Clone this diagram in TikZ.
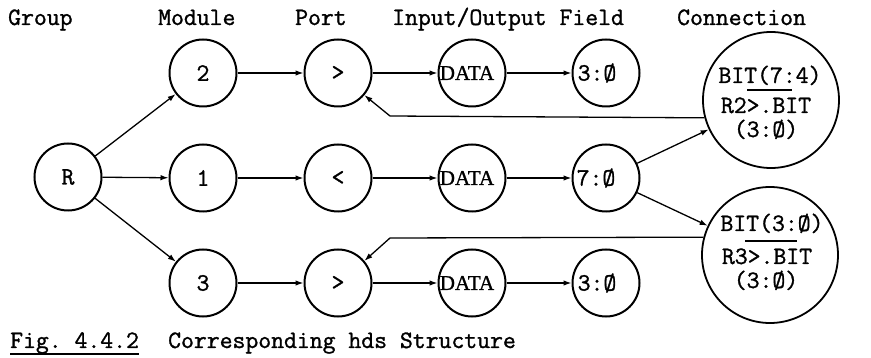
\documentclass[tikz,border=0pt]{standalone}
\usepackage{fontspec}
\setmonofont{Latin Modern Mono}[FakeBold=1.2]
\newfontfamily\datafont{Liberation Serif}[FakeBold=1]
\usetikzlibrary{arrows.meta}
% text pushed left inside a circle of fixed size
\newcommand\leftin[2]{\makebox[0pt]{\kern-#1#2}}
\newcommand\datatext{\datafont\fontsize{21}{23}\selectfont DATA}
\begin{document}
\begin{tikzpicture}[x=1pt,y=-1pt,
  every node/.style={font=\ttfamily\fontsize{25}{27}\selectfont},
  hds/.style={circle, draw, line width=2pt, minimum size=67pt, inner sep=0pt},
  conn/.style={circle, draw, line width=1.8pt, minimum size=136pt, inner sep=0pt},
  head/.style={anchor=base west, inner sep=0pt},
  ctext/.style={anchor=base, inner sep=0pt},
  link/.style={line width=1.3pt, -{Latex[length=8pt,width=5.5pt]}},
  back/.style={line width=1.3pt, line join=round, -{Latex[length=8pt,width=5.5pt]}}]
\useasboundingbox[fill=white] (0,0) rectangle (871,358);

% column headings
\node[head] (hgroup) at (8,25) {Group};
\node[head] (hmod) at (158,25) {Module};
\node[head] (hport) at (295,25) {Port};
\node[head] (hio) at (392,25) {Input/Output Field};
\node[head] (hconn) at (677,25) {Connection};

% group
\node[hds] (r) at (68,177) {R};

% modules
\node[hds] (m2) at (203,73) {2};
\node[hds] (m1) at (203,178) {1};
\node[hds] (m3) at (203,283) {3};

% ports
\node[hds] (p2) at (338,73) {>};
\node[hds] (p1) at (338,178) {<};
\node[hds] (p3) at (338,283) {>};

% input/output
\node[hds] (d2) at (472,73) {\leftin{10pt}{\datatext}};
\node[hds] (d1) at (472,178) {\leftin{10pt}{\datatext}};
\node[hds] (d3) at (472,283) {\leftin{10pt}{\datatext}};

% fields
\node[hds] (f2) at (606,73) {\leftin{18pt}{3:Ø}};
\node[hds] (f1) at (606,178) {\leftin{20pt}{7:Ø}};
\node[hds] (f3) at (606,283) {\leftin{18pt}{3:Ø}};

% connections
\node[conn] (c1) at (771,100) {};
\node[ctext] (c1a) at (770,83) {BIT(7:4)};
\node[ctext] (c1b) at (766,113) {R2>.BIT};
\node[ctext] (c1c) at (766,137) {(3:Ø)};
\draw[line width=1.5pt] (747,90) -- (792,90);

\node[conn] (c2) at (770,255) {};
\node[ctext] (c2a) at (772,231) {BIT(3:Ø)};
\node[ctext] (c2b) at (767,264) {R3>.BIT};
\node[ctext] (c2c) at (766,288) {(3:Ø)};
\draw[line width=1.5pt] (745,241) -- (797,241);

% tree edges
\draw[link] (r) -- (m2);
\draw[link] (r) -- (m1);
\draw[link] (r) -- (m3);
\foreach \row in {1,2,3} {
  \draw[link] (m\row) -- (p\row);
  \draw[link] (p\row) -- (d\row);
  \draw[link] (d\row) -- (f\row);
}
\draw[link] (f1) -- (c1);
\draw[link] (f1) -- (c2);

% references back to the ports
\coordinate (k1) at (390,116);
\coordinate (k2) at (390,238);
\draw[back] (c1.195) -- (k1) -- (p2.-40);
\draw[back] (c2.165) -- (k2) -- (p3.40);

% caption
\node[head] (fig) at (10,348) {Fig.\ 4.4.2};
\draw[line width=1.2pt] ([yshift=-6pt]fig.base west) -- ([yshift=-6pt]fig.base east);
\node[head] (cap) at (168,348) {Corresponding hds Structure};
\end{tikzpicture}
\end{document}
